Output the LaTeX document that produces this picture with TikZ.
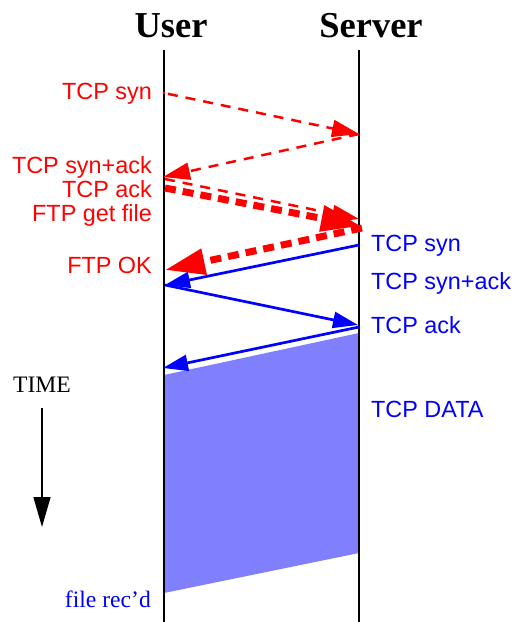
\documentclass[tikz,border=0pt]{standalone}
\usepackage{fontspec}
\setmainfont{Liberation Serif}
\newfontfamily\lblfont{Liberation Sans}
\usetikzlibrary{arrows.meta}
\definecolor{dred}{RGB}{255,0,0}
\definecolor{dblue}{RGB}{0,0,255}
\definecolor{dfill}{RGB}{128,128,255}
\begin{document}
\begin{tikzpicture}[x=1pt,y=-1pt,
  lbl/.style={inner sep=0pt,font=\lblfont\fontsize{23.4}{28}\selectfont},
  rlbl/.style={lbl,text=dred,anchor=base east},
  blbl/.style={lbl,text=dblue,anchor=base west},
  serlbl/.style={inner sep=0pt,font=\fontsize{23.6}{28}\selectfont},
  title/.style={inner sep=0pt,anchor=base,font=\bfseries\fontsize{36.5}{40}\selectfont},
  lifeline/.style={line width=2.4pt,black},
  thinred/.style={dred,line width=2.5pt,dash pattern=on 10pt off 8pt,
    -{Triangle[length=27pt,width=17pt]}},
  thickred/.style={dred,line width=7pt,dash pattern=on 11pt off 7pt,
    -{Triangle[length=40pt,width=25pt]}},
  bluearr/.style={dblue,line width=2.7pt,-{Triangle[length=25pt,width=16pt]}},
  timearr/.style={black,line width=1.5pt,-{Triangle[length=30pt,width=17pt]}}]
\useasboundingbox (0,0) rectangle (515,622);

% data fill
\fill[dfill] (164,375) -- (359,333) -- (359,553) -- (164,593) -- cycle;

% lifelines
\coordinate (utop) at (164,50);
\coordinate (ubot) at (164,622);
\coordinate (stop) at (359,50);
\coordinate (sbot) at (359,622);
\draw[lifeline] (utop) -- (ubot);
\draw[lifeline] (stop) -- (sbot);

% titles
\node[title] (tuser) at (171,37) {User};
\node[title] (tserver) at (371,37) {Server};

% red exchange
\coordinate (r1a) at (164,93);
\coordinate (r1b) at (359,134);
\coordinate (r2b) at (163,177);
\coordinate (r3a) at (165,179);
\coordinate (r3b) at (359,219);
\coordinate (r4a) at (165,188);
\coordinate (r4b) at (361,226);
\coordinate (r5a) at (362,228);
\coordinate (r5b) at (165,270);
\fill[dred] (r1a) circle (1.4pt);
\draw[thinred,dash phase=-4pt] (r1a) -- (r1b);
\draw[thinred] (r1b) -- (r2b);
\draw[thinred] (r3a) -- (r3b);
\draw[thickred] (r4a) -- (r4b);
\draw[thickred] (r5a) -- (r5b);

% blue exchange
\coordinate (b1a) at (359,245);
\coordinate (b1b) at (165,285);
\coordinate (b2b) at (358,325);
\coordinate (b3a) at (359,327);
\coordinate (b3b) at (163,368);
\draw[bluearr] (b1a) -- (b1b);
\draw[bluearr] (b1b) -- (b2b);
\draw[bluearr] (b3a) -- (b3b);

% red labels
\node[rlbl] (l1) at (152,99) {TCP syn};
\node[rlbl] (l2) at (152,173) {TCP syn+ack};
\node[rlbl] (l3) at (152,197) {TCP ack};
\node[rlbl] (l4) at (152,221) {FTP get file};
\node[rlbl] (l5) at (152,273) {FTP OK};

% blue labels
\node[blbl] (m1) at (371,251) {TCP syn};
\node[blbl] (m2) at (371,289) {TCP syn+ack};
\node[blbl] (m3) at (371,333) {TCP ack};
\node[blbl] (m4) at (371,417) {TCP DATA};

% time
\node[serlbl,anchor=base west] (time) at (13,392) {TIME};
\coordinate (ta) at (42,408);
\coordinate (tb) at (42,527);
\draw[timearr] (ta) -- (tb);

\node[serlbl,anchor=base east,text=dblue] (rec) at (151,607) {file rec'd};
\end{tikzpicture}
\end{document}
